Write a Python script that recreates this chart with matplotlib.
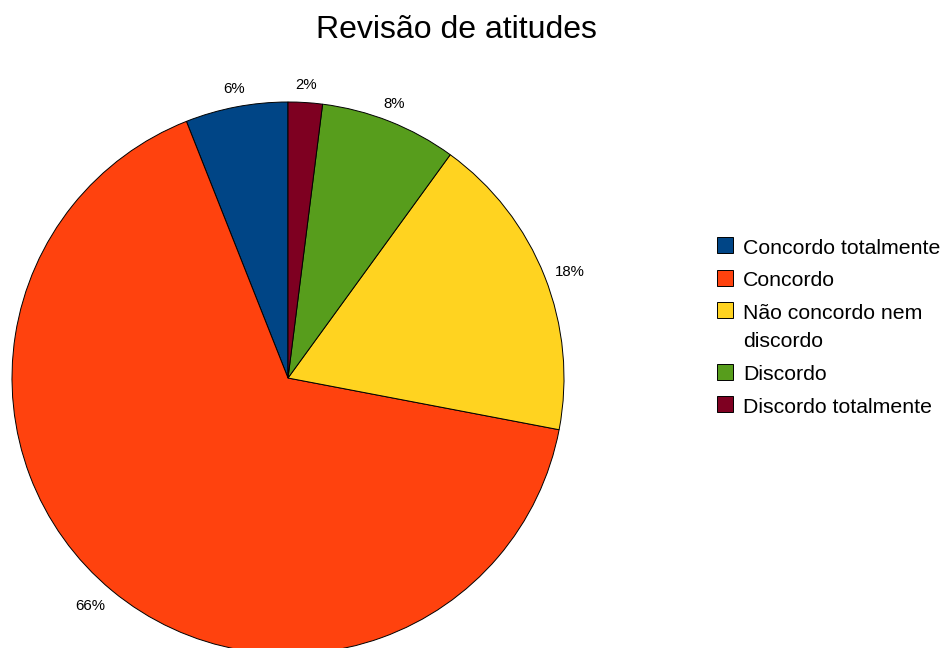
import matplotlib
matplotlib.use("Agg")
import matplotlib.pyplot as plt
from matplotlib.patches import Rectangle
import numpy as np

plt.rcParams['font.family'] = ['Liberation Sans', 'DejaVu Sans']

title = "Revisão de atitudes"
categories = ["Concordo totalmente", "Concordo", "Não concordo nem\ndiscordo",
              "Discordo", "Discordo totalmente"]
values = [6, 66, 18, 8, 2]
colors = ["#004586", "#ff420e", "#ffd320", "#579d1c", "#7e0021"]

W, H = 944, 648
fig = plt.figure(figsize=(W / 100, H / 100), dpi=100)

# pie axes: centre (288, 378) px, radius 276 px
cx, cy, r = 288, 378, 276
ax = fig.add_axes([(cx - r) / W, (H - cy - r) / H, 2 * r / W, 2 * r / H])
wedges, _ = ax.pie(values, colors=colors, startangle=90, counterclock=True,
                   radius=1.0, wedgeprops=dict(edgecolor="black", linewidth=0.7))
ax.set_xlim(-1, 1)
ax.set_ylim(-1, 1)
ax.set_aspect("equal")
ax.axis("off")
for w in wedges:
    w.set_clip_on(False)

# percentage labels just outside each wedge
total = sum(values)
for w, v in zip(wedges, values):
    ang = np.deg2rad((w.theta1 + w.theta2) / 2)
    c, s = np.cos(ang), np.sin(ang)
    ha = "left" if c > 0.5 else ("right" if c < -0.5 else "center")
    va = "bottom" if s > 0.5 else ("top" if s < -0.5 else "center")
    ax.text(1.04 * c, 1.04 * s, f"{round(100 * v / total)}%", ha=ha, va=va,
            fontsize=10.8, color="#000000")

fig.text(0.5 * (316 + 597) / W, 1 - 30 / H, title, ha="center", va="center",
         fontsize=23)

# legend drawn in pixel coordinates
def px(x, y):
    return x / W, 1 - y / H

y = 237
for lab, col in zip(categories, colors):
    fig.patches.append(Rectangle(px(717, y + 16), 16 / W, 16 / H, transform=fig.transFigure,
                                 facecolor=col, edgecolor="black", linewidth=0.7))
    fig.text(*px(743, y + 2), lab, ha="left", va="top", fontsize=15.3,
             linespacing=1.58)
    y += 32.5 + 29 * lab.count("\n")

fig.savefig("out.png", dpi=100)
